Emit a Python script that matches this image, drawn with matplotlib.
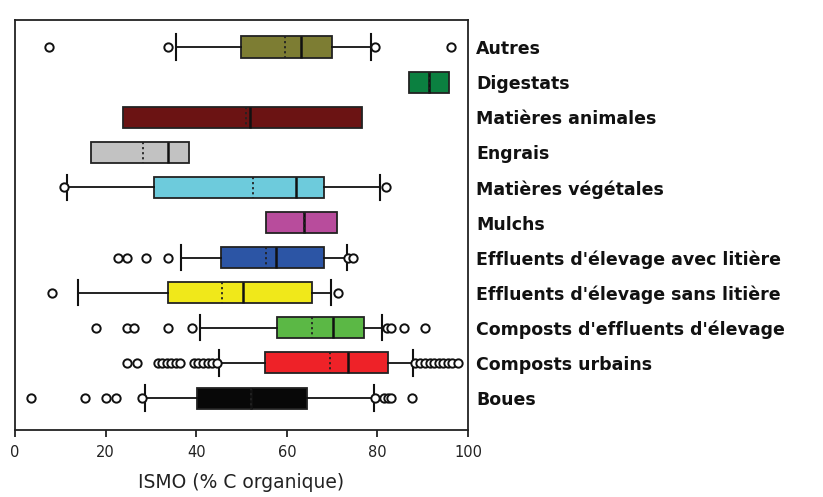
import matplotlib
matplotlib.use("Agg")
import matplotlib.pyplot as plt

plt.rcParams["font.family"] = ["DejaVu Sans"]

# categories from top to bottom
labels = ["Autres", "Digestats", "Matières animales", "Engrais", "Matières végétales",
          "Mulchs", "Effluents d'élevage avec litière", "Effluents d'élevage sans litière",
          "Composts d'effluents d'élevage", "Composts urbains", "Boues"]

whislo = [35.5, 87.0, 23.9, 16.7, 11.4, 55.3, 36.6, 13.8, 40.8, 45.1, 28.7]
q1     = [49.9, 87.0, 23.9, 16.7, 30.7, 55.3, 45.5, 33.7, 57.9, 55.2, 40.2]
med    = [63.2, 91.3, 51.9, 33.7, 62.0, 63.8, 57.6, 50.4, 70.3, 73.6, 52.0]
q3     = [69.9, 95.9, 76.6, 38.3, 68.1, 71.0, 68.3, 65.5, 77.1, 82.4, 64.4]
whishi = [78.6, 95.9, 76.6, 38.3, 80.6, 71.0, 73.2, 69.8, 81.1, 87.9, 79.3]
means  = [59.5, 91.3, 50.9, 28.3, 52.6, 63.7, 55.4, 45.8, 65.6, 69.5, 52.0]
fliers = [
    [7.6, 33.7, 79.5, 96.2],
    [],
    [],
    [],
    [10.9, 81.9],
    [],
    [22.8, 24.7, 28.9, 33.7, 73.6, 74.5],
    [8.1, 71.2],
    [17.8, 24.7, 26.3, 33.7, 39.1, 82.1, 83.0, 85.9, 90.4],
    [24.7, 26.9, 31.5, 32.5, 33.5, 34.5, 35.5, 36.5, 39.5, 40.5, 41.5, 42.5, 43.5, 44.5,
     88.2, 89.5, 90.5, 91.5, 92.5, 93.5, 94.5, 95.5, 96.5, 97.8],
    [3.5, 15.5, 20.1, 22.4, 28.0, 79.5, 81.5, 82.3, 83.0, 87.7],
]
has_whiskers = [True, False, False, False, True, False, True, True, True, True, True]

colors = ["#7d7d33", "#0b8040", "#6b1313", "#c2c2c2", "#6dcbdc", "#b84c9c",
          "#2c55a5", "#f0e81a", "#5bb845", "#ee2228", "#080808"]

stats = []
for i in range(len(labels)):
    stats.append({"label": labels[i], "whislo": whislo[i], "q1": q1[i], "med": med[i],
                  "q3": q3[i], "whishi": whishi[i], "mean": means[i], "fliers": fliers[i]})

fig = plt.figure(figsize=(8.23, 4.97), dpi=100)
ax = fig.add_axes([0.0182, 0.1348, 0.5505, 0.825])

pos = list(range(len(labels)))
bp = ax.bxp(stats, positions=pos, vert=False, widths=0.6, capwidths=0.72,
            patch_artist=True, showmeans=True, meanline=True,
            boxprops=dict(edgecolor="#222222", linewidth=1.3),
            medianprops=dict(color="#111111", linewidth=1.8),
            meanprops=dict(color="#222222", linestyle=(0, (1.2, 1.6)), linewidth=1.3),
            whiskerprops=dict(color="#111111", linewidth=1.3),
            capprops=dict(color="#111111", linewidth=1.5),
            flierprops=dict(marker="o", markerfacecolor="white", markeredgecolor="#111111",
                            markersize=6, markeredgewidth=1.4))

for patch, c in zip(bp["boxes"], colors):
    patch.set_facecolor(c)
for i, w in enumerate(has_whiskers):
    if not w:
        bp["caps"][2 * i].set_visible(False)
        bp["caps"][2 * i + 1].set_visible(False)
        bp["whiskers"][2 * i].set_visible(False)
        bp["whiskers"][2 * i + 1].set_visible(False)

ax.set_xlim(0, 100)
ax.set_ylim(10.91, -0.77)
ax.set_xticks([0, 20, 40, 60, 80, 100])
ax.tick_params(axis="x", direction="out", length=5, width=1.3, labelsize=10.5, pad=6,
               colors="#222222")
ax.yaxis.tick_right()
ax.set_yticks(pos)
ax.set_yticklabels(labels, fontsize=12.5, fontweight="bold", color="#111111")
ax.tick_params(axis="y", length=0, pad=6)
for s in ax.spines.values():
    s.set_linewidth(1.3)
    s.set_color("#222222")

ax.set_xlabel("ISMO (% C organique)", fontsize=13.5, color="#222222", labelpad=9)

fig.savefig("out.png", dpi=100)
plt.close(fig)
